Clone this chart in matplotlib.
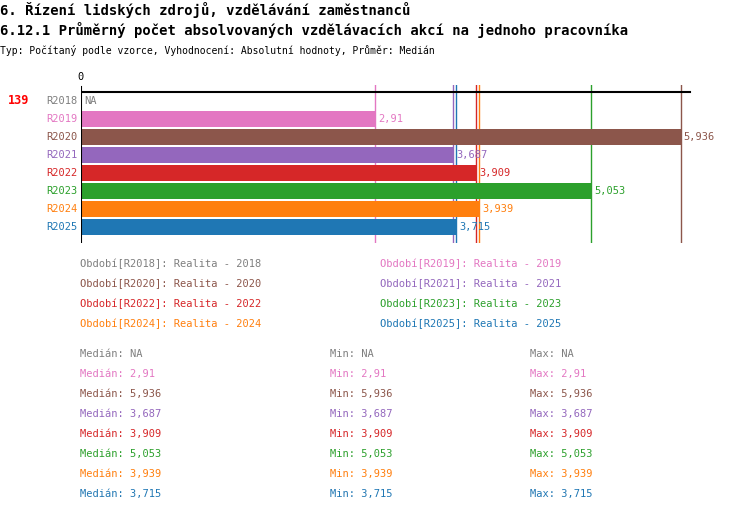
import numpy as np
import matplotlib
matplotlib.use("Agg")
import matplotlib.pyplot as plt

# Data
periods = ["R2018", "R2019", "R2020", "R2021", "R2022", "R2023", "R2024", "R2025"]
years = ["2018", "2019", "2020", "2021", "2022", "2023", "2024", "2025"]
values = [np.nan, 2.91, 5.936, 3.687, 3.909, 5.053, 3.939, 3.715]
labels = ["NA", "2,91", "5,936", "3,687", "3,909", "5,053", "3,939", "3,715"]
colors = ["#7f7f7f", "#e377c2", "#8c564b", "#9467bd", "#d62728", "#2ca02c", "#ff7f0e", "#1f77b4"]

W, H = 750, 512
fig = plt.figure(figsize=(7.5, 5.12), dpi=100)
mono = "DejaVu Sans Mono"
fs = 7.5

def ftext(x, y, s, **kw):
    kw.setdefault("family", mono)
    kw.setdefault("fontsize", fs)
    fig.text(x / W, 1 - y / H, s, va="center", **kw)

ftext(0, 10, "6. Řízení lidských zdrojů, vzdělávání zaměstnanců", fontsize=10, fontweight="bold")
ftext(0, 30, "6.12.1 Průměrný počet absolvovaných vzdělávacích akcí na jednoho pracovníka", fontsize=10, fontweight="bold")
ftext(0, 50, "Typ: Počítaný podle vzorce, Vyhodnocení: Absolutní hodnoty, Průměr: Medián", fontsize=7)

# chart axes: x from px 81 to 750, y from px 85 to 243
px_unit = 101.0
x0, x1 = 81, 750
ytop, ybot = 85, 243
ax = fig.add_axes([x0 / W, 1 - ybot / H, (x1 - x0) / W, (ybot - ytop) / H])
ax.set_xlim(0, (x1 - x0) / px_unit)
row0, step = 101, 18
ax.set_ylim((ybot - row0) / step, (ytop - row0) / step)
ax.axis("off")

ypos = np.arange(len(periods))
vals = np.nan_to_num(np.array(values))
ax.barh(ypos, vals, height=16 / 18, color=colors, zorder=2)
for v, c in zip(values, colors):
    if not np.isnan(v):
        ax.axvline(v, color=c, lw=1, zorder=1)
axis_y = (92 - row0) / step
ax.plot([0, 6.03], [axis_y, axis_y], color="black", lw=1.5, zorder=3)
ax.plot([0, 0], [axis_y - 0.3, ax.get_ylim()[0]], color="black", lw=1.5, zorder=3)
ax.text(0, axis_y - 0.55, "0", ha="center", va="bottom", family=mono, fontsize=fs)

for i, (p, v, lab, c) in enumerate(zip(periods, values, labels, colors)):
    ax.text(-0.03, i, p, ha="right", va="center", color=c, family=mono, fontsize=fs)
    xv = 0 if np.isnan(v) else v
    ax.text(xv + 0.03, i, lab, ha="left", va="center", color=c, family=mono, fontsize=fs)

ftext(8, 101, "139", color="red", fontweight="bold", fontsize=8.5)

# legend block
for i, (p, yr, c) in enumerate(zip(periods, years, colors)):
    col, row = i % 2, i // 2
    ftext(80 + 300 * col, 264 + 20 * row, f"Období[{p}]: Realita - {yr}", color=c)

# stats block
for i, (lab, c) in enumerate(zip(labels, colors)):
    y = 354 + 20 * i
    ftext(80, y, f"Medián: {lab}", color=c)
    ftext(330, y, f"Min: {lab}", color=c)
    ftext(530, y, f"Max: {lab}", color=c)

fig.savefig("out.png", dpi=100)
